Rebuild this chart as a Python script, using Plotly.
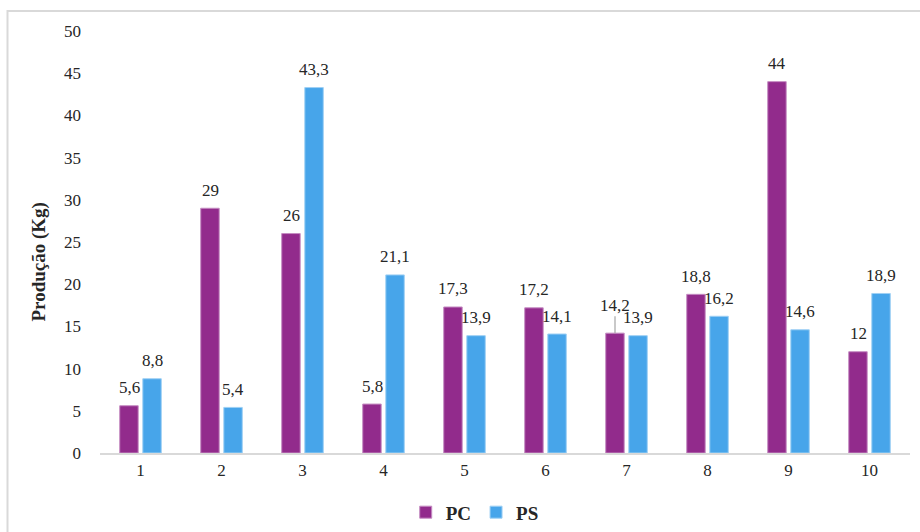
import plotly.graph_objects as go

categories = ["1", "2", "3", "4", "5", "6", "7", "8", "9", "10"]
pc_values = [5.6, 29, 26, 5.8, 17.3, 17.2, 14.2, 18.8, 44, 12]
ps_values = [8.8, 5.4, 43.3, 21.1, 13.9, 14.1, 13.9, 16.2, 14.6, 18.9]
y_ticks = [0, 5, 10, 15, 20, 25, 30, 35, 40, 45, 50]

PC_COLOR = "#922B8C"
PS_COLOR = "#47A5EA"
FONT = "Liberation Serif"
TEXT_COLOR = "#262626"


def fmt(v):
    return f"{v:g}".replace(".", ",")


fig = go.Figure()
fig.add_trace(go.Bar(
    x=categories, y=pc_values, name="<b>PC</b>",
    marker=dict(color=PC_COLOR, line=dict(color="#C58CC2", width=1)),
))
fig.add_trace(go.Bar(
    x=categories, y=ps_values, name="<b>PS</b>",
    marker=dict(color=PS_COLOR, line=dict(color="#9FD0F4", width=1)),
))

annotations = []
for series, values, shift in (("PC", pc_values, -11.5), ("PS", ps_values, 11.5)):
    for i, (cat, v) in enumerate(zip(categories, values)):
        if series == "PC" and cat == "7":
            # label lifted above its bar with a leader line
            annotations.append(dict(
                x=i, y=v, xref="x", yref="y", text=fmt(v), xshift=shift,
                showarrow=True, arrowhead=0, arrowwidth=1.2, arrowcolor="#A6A6A6",
                ax=0, ay=-28, standoff=0,
                font=dict(family=FONT, size=17, color=TEXT_COLOR),
            ))
        else:
            annotations.append(dict(
                x=i, y=v, xref="x", yref="y", text=fmt(v), xshift=shift,
                yshift=18, yanchor="middle", showarrow=False,
                font=dict(family=FONT, size=17, color=TEXT_COLOR),
            ))

# vertical axis title
annotations.append(dict(
    x=-0.0747, y=0.4526, xref="paper", yref="paper",
    text="<b>Produção (Kg)</b>", textangle=-90, showarrow=False,
    xanchor="center", yanchor="middle",
    font=dict(family=FONT, size=19, color=TEXT_COLOR),
))

fig.update_layout(
    width=920, height=532,
    margin=dict(l=100, r=10, t=31, b=79, autoexpand=False),
    paper_bgcolor="white", plot_bgcolor="white",
    barmode="group", bargap=0.43, bargroupgap=0.2,
    font=dict(family=FONT, size=17, color=TEXT_COLOR),
    xaxis=dict(
        type="category", range=[-0.5, 9.5], showgrid=False, zeroline=False,
        showline=True, linecolor="#D9D9D9", linewidth=1.5,
        ticks="", ticklabelstandoff=1, automargin=False,
        tickfont=dict(family=FONT, size=17, color=TEXT_COLOR),
    ),
    yaxis=dict(
        range=[0, 50], tickvals=y_ticks, showgrid=False, zeroline=False,
        showline=False, ticks="", ticklabelstandoff=18, automargin=False,
        tickfont=dict(family=FONT, size=17, color=TEXT_COLOR),
    ),
    legend=dict(
        orientation="h", xref="container", yref="container",
        x=0.516, xanchor="center", y=0.037, yanchor="middle",
        font=dict(family=FONT, size=19, color=TEXT_COLOR),
        itemwidth=30, tracegroupgap=0,
    ),
    annotations=annotations,
    shapes=[dict(
        type="rect", xref="paper", yref="paper",
        x0=-0.1142, x1=1.1, y0=-0.4, y1=1.0474,
        line=dict(color="#D9D9D9", width=2), fillcolor="rgba(0,0,0,0)",
        layer="below",
    )],
)

fig.write_html("out.html")
